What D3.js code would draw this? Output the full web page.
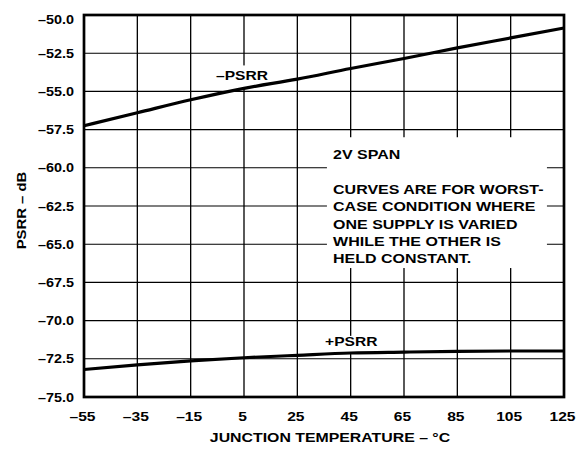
<!DOCTYPE html>
<html>
<head>
<meta charset="utf-8">
<script src="https://cdn.jsdelivr.net/npm/d3@7"></script>
<style>
  html, body { margin: 0; padding: 0; background: #fff; }
  svg text { font-family: "Liberation Sans", Arial, Helvetica, sans-serif; font-weight: bold; fill: #000; }
</style>
</head>
<body>
<svg id="chart" width="584" height="450"></svg>
<script>
// ---- data ----
const temps = [-55, -35, -15, 5, 25, 45, 65, 85, 105, 125];
const negPSRR = [-57.25, -56.4, -55.55, -54.8, -54.2, -53.5, -52.85, -52.15, -51.5, -50.85];
const posPSRR = [-73.2, -72.9, -72.64, -72.43, -72.27, -72.12, -72.06, -72.01, -71.99, -71.99];
const xTicks = [-55, -35, -15, 5, 25, 45, 65, 85, 105, 125];
const xTickLabels = ["\u201355", "\u201335", "\u201315", "5", "25", "45", "65", "85", "105", "125"];
const yTicks = [-50, -52.5, -55, -57.5, -60, -62.5, -65, -67.5, -70, -72.5, -75];
const yTickLabels = ["\u201350.0", "\u201352.5", "\u201355.0", "\u201357.5", "\u201360.0", "\u201362.5",
                     "\u201365.0", "\u201367.5", "\u201370.0", "\u201372.5", "\u201375.0"];
const noteLines = ["2V SPAN", "", "CURVES ARE FOR WORST-", "CASE CONDITION WHERE",
                   "ONE SUPPLY IS VARIED", "WHILE THE OTHER IS", "HELD CONSTANT."];

// ---- layout ----
const svg = d3.select("#chart");
const L = 84, R = 564, T = 15, B = 397;
const x = d3.scaleLinear().domain([-55, 125]).range([L, R]);
const y = d3.scaleLinear().domain([-75, -50]).range([B, T]);

function txt(parent, px, py, s, o) {
  const g = parent.append("g")
    .attr("transform", `translate(${px},${py})${o.rot ? " rotate(-90)" : ""} scale(${o.sx || 1},1)`);
  g.append("text").attr("text-anchor", o.anchor || "start")
    .style("font-size", (o.size || 12) + "px").text(s);
  return g;
}

// grid
const vp = d3.path();
xTicks.forEach(d => { vp.moveTo(x(d), T); vp.lineTo(x(d), B); });
svg.append("path").attr("class", "gridv").attr("d", vp.toString())
  .style("fill", "none").style("stroke", "#000").style("stroke-width", "1.3px");
const hp = d3.path();
yTicks.forEach(d => { hp.moveTo(L, y(d)); hp.lineTo(R, y(d)); });
svg.append("path").attr("class", "gridh").attr("d", hp.toString())
  .style("fill", "none").style("stroke", "#000").style("stroke-width", "1.1px");

// white annotation box
svg.append("rect")
  .attr("x", x(36.1)).attr("y", y(-58))
  .attr("width", x(118.6) - x(36.1)).attr("height", y(-66.56) - y(-58))
  .attr("fill", "#fff");
// label backgrounds
svg.append("rect").attr("x", x(-6.25)).attr("y", y(-53.3)).attr("width", x(15.5) - x(-6.25))
  .attr("height", y(-54.75) - y(-53.3)).attr("fill", "#fff");
svg.append("rect").attr("x", x(34.25)).attr("y", y(-71.0)).attr("width", x(56) - x(34.25))
  .attr("height", y(-72.1) - y(-71.0)).attr("fill", "#fff");

// curves
const line = d3.line().x((d, i) => x(temps[i])).y(d => y(d)).curve(d3.curveMonotoneX);
[negPSRR, posPSRR].forEach(s => {
  svg.append("path").attr("d", line(s)).attr("fill", "none")
    .attr("stroke", "#000").attr("stroke-width", 3.2);
});

// frame
svg.append("rect").attr("x", L).attr("y", T).attr("width", R - L).attr("height", B - T)
  .attr("fill", "none").attr("stroke", "#000").attr("stroke-width", 2.7);

// tick labels
yTicks.forEach((v, i) => txt(svg, L - 10, y(v) + 4.5 + (i === 0 ? 4 : 0), yTickLabels[i],
  { anchor: "end", size: 12, sx: 1.2 }));
xTicks.forEach((v, i) => txt(svg, x(v) - 1.5, 421, xTickLabels[i], { anchor: "middle", size: 12.5, sx: 1.25 }));

// axis titles
txt(svg, 330, 442, "JUNCTION TEMPERATURE \u2013 \u00B0C", { anchor: "middle", size: 12.5, sx: 1.27 });
txt(svg, 26, 210.5, "PSRR \u2013 dB", { anchor: "middle", size: 12.5, sx: 1.19, rot: true });

// curve labels
txt(svg, x(-5.5), 80, "\u2013PSRR", { size: 12, sx: 1.3 });
txt(svg, x(35.4), 346, "+PSRR", { size: 12, sx: 1.3 });

// note
noteLines.forEach((s, i) => {
  const by = i === 0 ? 159 : 194 + (i - 2) * 17.3;
  if (s) txt(svg, x(38.4), by, s, { size: 13, sx: 1.23 });
});
</script>
</body>
</html>
